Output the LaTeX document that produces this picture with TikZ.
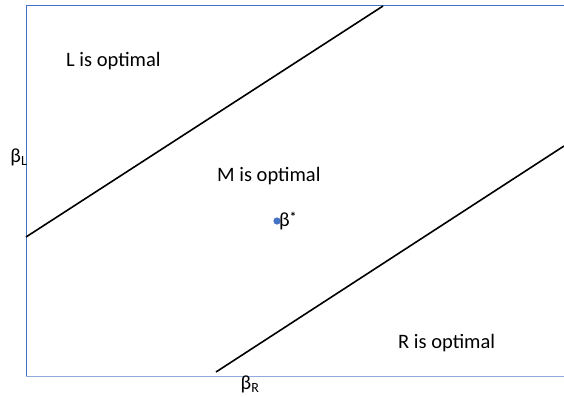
\documentclass[tikz,border=0pt]{standalone}
\usepackage{fontspec}
\setmainfont{Carlito}
\usepackage{xcolor}
\usetikzlibrary{positioning,calc}

\definecolor{axisblue}{HTML}{4472C4}
\definecolor{axislight}{HTML}{8FAADC}

\begin{document}
\begin{tikzpicture}[
    x=1pt, y=-1pt,
    region/.style={font=\fontsize{20.5}{24}\selectfont, inner sep=0pt, anchor=west},
    axislabel/.style={font=\fontsize{20}{24}\selectfont, inner sep=0pt},
    border/.style={draw=axisblue, line width=0.8pt},
    boundary/.style={draw=black, line width=1.6pt}
]
    \useasboundingbox (0,0) rectangle (564,396);

    % frame
    \coordinate (tl) at (26,5);
    \coordinate (tr) at (564,5);
    \coordinate (bl) at (26,376);
    \coordinate (br) at (564,376);
    \draw [border] (tr) -- (tl) -- (bl);
    \draw [border, draw=axislight] (bl) -- (br);

    % boundaries between regions
    \coordinate (ua) at (26,237);
    \coordinate (ub) at (383,6);
    \coordinate (la) at (216,372);
    \coordinate (lb) at (564,146);
    \draw [boundary] (ua) -- (ub);
    \draw [boundary] (la) -- (lb);

    % regions
    \node [region] (lopt) at (66,61) {L is optimal};
    \node [region] (mopt) at (217,176) {M is optimal};
    \node [region] (ropt) at (398,343) {R is optimal};

    % axis labels
    \node [axislabel] (bl1) at (19,157) {β\textsubscript{L}};
    \node [axislabel] (br1) at (250,384) {β\textsubscript{R}};

    % optimum point
    \fill [axisblue] (277,221) circle (3.6pt) coordinate (star);
    \node [axislabel, right=2pt of star] (bstar) {β\raisebox{0.6ex}{\fontsize{13}{13}\selectfont\textbf{*}}};
\end{tikzpicture}
\end{document}
